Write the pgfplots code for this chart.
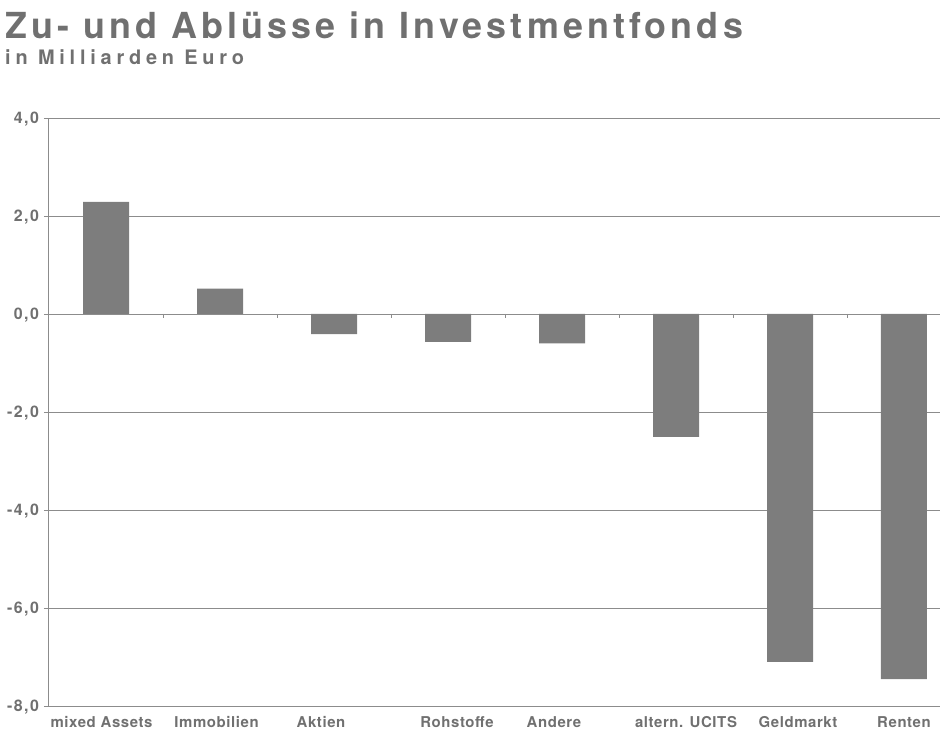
\documentclass[border=0pt]{standalone}
\usepackage{pgfplots}
\pgfplotsset{compat=1.18}
\usepackage{fontspec}
\setmainfont{TeX Gyre Heros}
\newfontfamily\titlefont[LetterSpace=11.5]{TeX Gyre Heros}
\newfontfamily\subfont[LetterSpace=24]{TeX Gyre Heros}
\newfontfamily\tickfont[LetterSpace=9]{TeX Gyre Heros}
\newfontfamily\catfont[LetterSpace=4]{TeX Gyre Heros}
\definecolor{txt}{RGB}{112,112,112}
\definecolor{barc}{RGB}{125,125,125}
\definecolor{grd}{RGB}{140,140,140}
\begin{document}
\begin{tikzpicture}[x=1bp,y=1bp]
\path[use as bounding box] (-48,-40) rectangle (892,706);
\begin{axis}[
  at={(0,0)}, anchor=south west,
  scale only axis, width=892bp, height=588bp,
  xmin=-0.509, xmax=7.316, ymin=-8, ymax=4,
  axis x line*=bottom, axis y line*=left,
  axis line style={draw=grd, line width=0.8bp, -},
  ymajorgrids, grid style={draw=grd, line width=0.8bp},
  ytick={-8,-6,-4,-2,0,2,4},
  yticklabels={{-8,0},{-6,0},{-4,0},{-2,0},{0,0},{2,0},{4,0}},
  tick align=outside, major tick length=4bp,
  ytick style={draw=grd, line width=0.8bp},
  xtick style={draw=none},
  xtick={0,1,2,3,4,5,6,7},
  xticklabels={{\hspace*{-9bp}mixed Assets},{\hspace*{-7bp}Immobilien},{\hspace*{-26bp}Aktien},{\hspace*{18bp}Rohstoffe},{\hspace*{-16bp}Andere},{\hspace*{20bp}altern. UCITS},{\hspace*{16bp}Geldmarkt},{Renten}},
  xticklabel style={anchor=base, yshift=-18bp, text=txt, font=\catfont\bfseries\fontsize{15}{18}\selectfont},
  yticklabel style={anchor=base east, yshift=-5.8bp, xshift=-1.5bp, text=txt, font=\tickfont\bfseries\fontsize{16}{18}\selectfont},
  clip=false,
]
\addplot[ybar, bar width=46bp, fill=barc, draw=none] coordinates {
  (0,2.29) (1,0.52) (2,-0.41) (3,-0.57) (4,-0.60) (5,-2.51) (6,-7.10) (7,-7.45)
};
\addplot[ycomb, draw=grd, line width=0.8bp, mark=none] coordinates {
  (0.5,-0.085) (1.5,-0.085) (2.5,-0.085) (3.5,-0.085) (4.5,-0.085) (5.5,-0.085) (6.5,-0.085)
};
\end{axis}
\node[anchor=base west, inner sep=0, text=txt, font=\titlefont\bfseries\fontsize{36}{40}\selectfont] at (-43,667) {Zu- und Ablüsse in Investmentfonds};
\node[anchor=base west, inner sep=0, text=txt, font=\subfont\bfseries\fontsize{20}{24}\selectfont] at (-43,641) {in Milliarden Euro};
\end{tikzpicture}
\end{document}
